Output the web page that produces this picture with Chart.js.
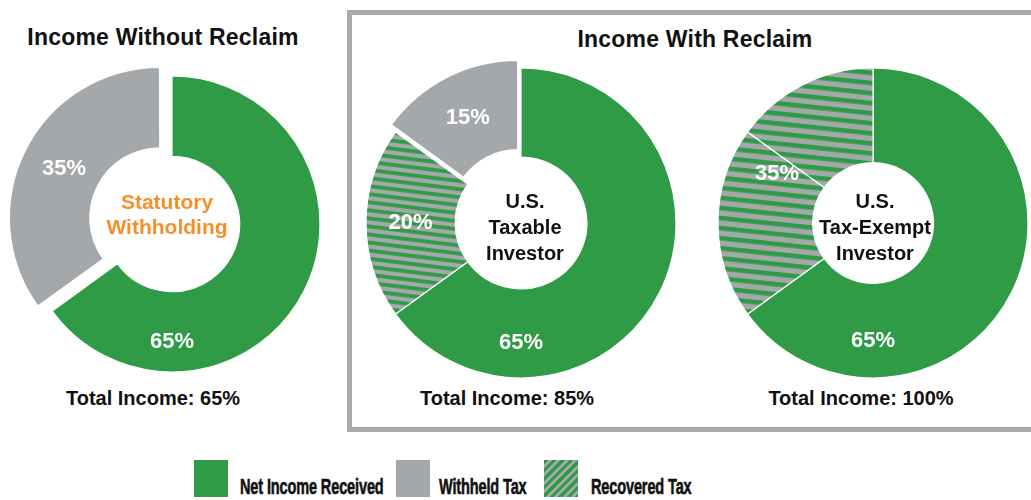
<!doctype html>
<html lang="en">
<head>
<meta charset="utf-8">
<title>Income With and Without Reclaim</title>
<script src="https://cdn.jsdelivr.net/npm/chart.js@4"></script>
<style>
  body { margin:0; width:1031px; height:500px; position:relative; overflow:hidden; background:#fff;
         font-family:"Liberation Sans", Arial, sans-serif; color:#111; }
  .box { position:absolute; left:347px; top:10px; width:700px; height:412px; border:5px solid #a8abae; }
  .lbl { position:absolute; font-weight:bold; white-space:nowrap; transform:translateX(-50%); line-height:1; }
  .title { font-size:23px; letter-spacing:0.2px; }
  .total { font-size:20px; }
  .ring { position:absolute; width:340px; height:340px; }
  .key { position:absolute; top:460px; width:34px; height:37px; }
  .keytext { position:absolute; top:476px; font-size:22px; font-weight:bold; line-height:1;
             transform-origin:left center; transform:scaleX(0.66); white-space:nowrap; letter-spacing:-0.2px;
             -webkit-text-stroke:0.6px #111; }
</style>
</head>
<body>
<div class="box"></div>
<div class="lbl title" style="left:163px; top:26px;">Income Without Reclaim</div>
<div class="lbl title" style="left:695px; top:28px;">Income With Reclaim</div>
<div class="lbl total" style="left:153px; top:388px;" id="t0"></div>
<div class="lbl total" style="left:507px; top:388px;" id="t1"></div>
<div class="lbl total" style="left:861px; top:388px;" id="t2"></div>

<div class="ring" style="left:2px; top:54px;"><canvas id="c0"></canvas></div>
<div class="ring" style="left:351px; top:53px;"><canvas id="c1"></canvas></div>
<div class="ring" style="left:703px; top:53px;"><canvas id="c2"></canvas></div>

<div id="legend"></div>

<script>
// categories shown in the legend
const categories = ['Net Income Received', 'Withheld Tax', 'Recovered Tax'];

// slice values (percent of gross income) for each doughnut
const withoutReclaim = [65, 35];
const taxableInvestor = [65, 20, 15];
const exemptInvestor = [65, 20, 15];

// which category each slice belongs to (index into categories)
const withoutKinds = [0, 1];
const taxableKinds = [0, 2, 1];
const exemptKinds = [0, 2, 2];

// total income line under each doughnut
const totalIncome = [65, 85, 100];

// words in the hole
const withoutCenter = ['Statutory', 'Withholding'];
const taxableCenter = ['U.S.', 'Taxable', 'Investor'];
const exemptCenter = ['U.S.', 'Tax-Exempt', 'Investor'];

const GREEN = '#2f9b46';
const GRAY = '#a5a8ab';

function stripes(period, band, angle) {
  const c = document.createElement('canvas');
  c.width = 4; c.height = period;
  const g = c.getContext('2d');
  g.fillStyle = GRAY; g.fillRect(0, 0, 4, period);
  g.fillStyle = GREEN; g.fillRect(0, 0, 4, band);
  const p = g.createPattern(c, 'repeat');
  p.setTransform(new DOMMatrix().rotate(angle));
  return p;
}

function fillFor(kind, pattern) {
  if (kind === 0) return GREEN;
  if (kind === 1) return GRAY;
  return pattern;
}

// labels in the ring + words in the hole
const ringText = {
  id: 'ringText',
  afterDatasetsDraw(chart, args, opts) {
    const ctx = chart.ctx;
    const arcs = chart.getDatasetMeta(0).data;
    const values = chart.data.datasets[0].data;
    ctx.save();
    ctx.textAlign = 'center';
    ctx.textBaseline = 'middle';
    ctx.fillStyle = '#fff';
    ctx.font = 'bold 22px "Liberation Sans", Arial, sans-serif';
    opts.groups.forEach((grp, k) => {
      const first = arcs[grp[0]], last = arcs[grp[grp.length - 1]];
      const sum = grp.reduce((s, i) => s + values[i], 0);
      let ang = (first.startAngle + last.endAngle) / 2;
      let r = (first.innerRadius + first.outerRadius) / 2 + (first.options.offset || 0) / 4;
      if (k === 0) { ang = Math.PI / 2; r += 10; }   // net income label sits at the bottom
      ctx.fillText(sum + '%', first.x + Math.cos(ang) * r, first.y + Math.sin(ang) * r);
    });
    ctx.fillStyle = opts.color;
    ctx.font = opts.font;
    const n = opts.lines.length;
    const cx = arcs[0].x + (opts.dx || 0), cy = arcs[0].y + (opts.dy || 0);
    opts.lines.forEach((line, i) => ctx.fillText(line, cx, cy + (i - (n - 1) / 2) * opts.lineHeight));
    ctx.restore();
  }
};

function makeRing(id, values, kinds, offsets, pattern, radius, cutout, groups, center) {
  new Chart(document.getElementById(id), {
    type: 'doughnut',
    data: {
      labels: kinds.map(k => categories[k]),
      datasets: [{
        data: values,
        backgroundColor: kinds.map(k => fillFor(k, pattern)),
        borderColor: '#fff',
        borderWidth: 1.2,
        offset: offsets
      }]
    },
    options: {
      responsive: false,
      animation: false,
      radius: radius,
      cutout: cutout,
      layout: { padding: 0 },
      events: [],
      plugins: {
        legend: { display: false },
        tooltip: { enabled: false },
        ringText: Object.assign({ groups: groups }, center)
      }
    },
    plugins: [ringText]
  });
}

document.querySelectorAll('canvas').forEach(c => { c.width = 340; c.height = 340; });

makeRing('c0', withoutReclaim, withoutKinds, [0, 54], null, 148, 65, [[0], [1]],
  { lines: withoutCenter, color: '#f58f2a', font: 'bold 21px "Liberation Sans", Arial, sans-serif', lineHeight: 25, dx: -5, dy: -8 });
makeRing('c1', taxableInvestor, taxableKinds, [0, 0, 28], stripes(8, 3.8, 7), 155, 66, [[0], [1], [2]],
  { lines: taxableCenter, color: '#111', font: 'bold 20px "Liberation Sans", Arial, sans-serif', lineHeight: 26, dx: 4, dy: 5 });
makeRing('c2', exemptInvestor, exemptKinds, [0, 0, 0], stripes(10.5, 4.6, 6), 155, 66, [[0], [1, 2]],
  { lines: exemptCenter, color: '#111', font: 'bold 20px "Liberation Sans", Arial, sans-serif', lineHeight: 26, dx: 2, dy: 5 });

totalIncome.forEach((v, i) => { document.getElementById('t' + i).textContent = 'Total Income: ' + v + '%'; });

// legend
const keyX = [194, 396, 544];
const textX = [240, 439, 591];
const keyFill = [GREEN, GRAY, 'repeating-linear-gradient(135deg, ' + GREEN + ' 0 3px, ' + GRAY + ' 3px 6px)'];
const legend = document.getElementById('legend');
categories.forEach((name, i) => {
  const sq = document.createElement('div');
  sq.className = 'key';
  sq.style.left = keyX[i] + 'px';
  sq.style.background = keyFill[i];
  legend.appendChild(sq);
  const t = document.createElement('div');
  t.className = 'keytext';
  t.style.left = textX[i] + 'px';
  t.textContent = name;
  legend.appendChild(t);
});
</script>
</body>
</html>
